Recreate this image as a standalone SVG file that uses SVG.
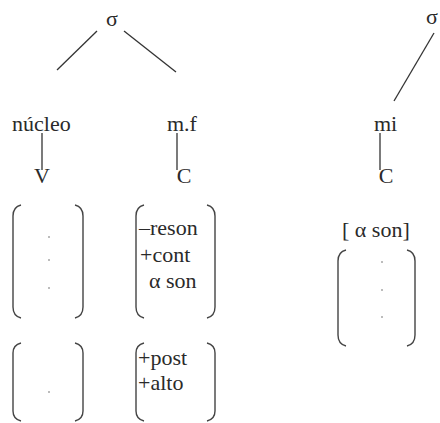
<svg xmlns="http://www.w3.org/2000/svg" width="440" height="423" viewBox="0 0 440 423">
<style>
.t{font-family:"Liberation Serif","Times New Roman",serif;font-size:22px;fill:#2a2a2a}
.l{stroke:#333;stroke-width:1.3;fill:none}
.b{stroke:#444;stroke-width:1.4;fill:none}
.d{fill:#666}
</style>
<rect width="440" height="423" fill="#fff"/>
<g id="connectors">
<line class="l" x1="97" y1="31" x2="57" y2="70"/>
<line class="l" x1="124" y1="31" x2="176" y2="72"/>
<line class="l" x1="434" y1="33" x2="394" y2="101"/>
<line class="l" x1="42" y1="133" x2="42" y2="170"/>
<line class="l" x1="177" y1="133" x2="177" y2="170"/>
<line class="l" x1="380" y1="133" x2="380" y2="170"/>
</g>
<g id="sigma1"><text class="t" x="112" y="26" text-anchor="middle">σ</text></g>
<g id="sigma2"><text class="t" x="432" y="24" text-anchor="middle">σ</text></g>
<g id="nucleo"><text class="t" x="12" y="131">núcleo</text></g>
<g id="mf"><text class="t" x="167" y="131">m.f</text></g>
<g id="mi"><text class="t" x="374" y="131">mi</text></g>
<g id="V"><text class="t" x="42" y="183" text-anchor="middle">V</text></g>
<g id="C1"><text class="t" x="184" y="183" text-anchor="middle">C</text></g>
<g id="C2"><text class="t" x="386" y="183" text-anchor="middle">C</text></g>
<g id="m1">
<path class="b" d="M21,205 Q13,207 13,216 L13,307 Q13,316 21,318"/>
<path class="b" d="M75,205 Q83,207 83,216 L83,307 Q83,316 75,318"/>
<circle class="d" cx="49" cy="237" r="0.8"/><circle class="d" cx="49" cy="260" r="0.8"/><circle class="d" cx="49" cy="288" r="0.8"/>
</g>
<g id="m2">
<path class="b" d="M21,343 Q13,345 13,353 L13,411 Q13,419 21,421"/>
<path class="b" d="M75,343 Q83,345 83,353 L83,411 Q83,419 75,421"/>
<circle class="d" cx="49" cy="392" r="0.8"/>
</g>
<g id="m3">
<path class="b" d="M144,205 Q136,207 136,216 L136,307 Q136,316 144,318"/>
<path class="b" d="M207,205 Q215,207 215,216 L215,307 Q215,316 207,318"/>
<text class="t" x="139" y="235">–reson</text>
<text class="t" x="140" y="262">+cont</text>
<text class="t" x="149" y="288">α son</text>
</g>
<g id="m4">
<path class="b" d="M144,343 Q136,345 136,353 L136,411 Q136,419 144,421"/>
<path class="b" d="M207,343 Q215,345 215,353 L215,411 Q215,419 207,421"/>
<text class="t" x="138" y="365">+post</text>
<text class="t" x="138" y="390">+alto</text>
</g>
<g id="m5">
<text class="t" x="342" y="237">[ α son]</text>
<path class="b" d="M346,250 Q338,252 338,261 L338,335 Q338,344 346,346"/>
<path class="b" d="M407,250 Q415,252 415,261 L415,335 Q415,344 407,346"/>
<circle class="d" cx="382" cy="262" r="0.8"/><circle class="d" cx="382" cy="290" r="0.8"/><circle class="d" cx="382" cy="317" r="0.8"/>
</g>
</svg>
